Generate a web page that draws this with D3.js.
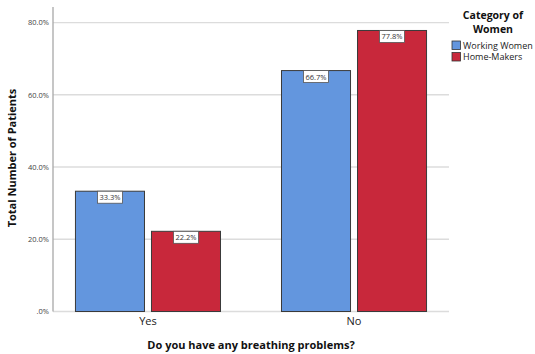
<!DOCTYPE html>
<html>
<head>
<meta charset="utf-8">
<script src="https://cdn.jsdelivr.net/npm/d3@7"></script>
<style>
  html, body { margin: 0; padding: 0; background: #fff; }
  svg { display: block; }
</style>
</head>
<body>
<svg id="chart" width="535" height="354"></svg>
<script>
// Answers to the survey question (x categories)
const categories = ["Yes", "No"];
// Groups of women (series)
const seriesNames = ["Working Women", "Home-Makers"];
// Percentage of patients per answer, one array per group
const workingWomen = [33.3, 66.7];
const homeMakers = [22.2, 77.8];
// Y tick values and their printed labels
const yTicks = [0, 20, 40, 60, 80];
const yTickLabels = [".0%", "20.0%", "40.0%", "60.0%", "80.0%"];

const seriesValues = [workingWomen, homeMakers];
const colors = ["#6396de", "#c8283b"];

const svg = d3.select("#chart");
const font = "'Open Sans', 'Liberation Sans', sans-serif";

const plot = { left: 53, right: 449, top: 7, bottom: 311.5 };

const y = d3.scaleLinear().domain([0, 84.3]).range([plot.bottom, plot.top]);
const x0 = d3.scaleBand().domain(categories).range([plot.left, plot.right])
  .paddingInner(0.296).paddingOuter(0.109);
const x1 = d3.scaleBand().domain(seriesNames).range([0, x0.bandwidth()])
  .paddingInner(0.092).paddingOuter(0);

// Gridlines
svg.append("g").selectAll("line").data(yTicks).join("line")
  .attr("x1", plot.left).attr("x2", plot.right)
  .attr("y1", d => y(d)).attr("y2", d => y(d))
  .attr("stroke", "#dcdcdc").attr("stroke-width", 1.3);

// Y axis
const yAxis = d3.axisLeft(y).tickValues(yTicks)
  .tickFormat((d, i) => yTickLabels[i]).tickSize(0).tickPadding(4);
const gy = svg.append("g").attr("transform", `translate(${plot.left},0)`).call(yAxis);
gy.select(".domain").remove();
gy.selectAll("text").attr("font-family", font).attr("font-size", 7.5).attr("fill", "#444");
svg.append("line").attr("x1", plot.left).attr("x2", plot.left)
  .attr("y1", plot.top).attr("y2", plot.bottom)
  .attr("stroke", "#a8a8a8").attr("stroke-width", 1.3);

// X axis labels
const xAxis = d3.axisBottom(x0).tickSize(0).tickPadding(6);
const gx = svg.append("g").attr("transform", `translate(0,${plot.bottom})`).call(xAxis);
gx.select(".domain").remove();
gx.selectAll("text").attr("font-family", font).attr("font-size", 11).attr("fill", "#222");

// Bars
const groups = svg.append("g").selectAll("g").data(categories).join("g")
  .attr("transform", d => `translate(${x0(d)},0)`);

const barData = (cat, ci) => seriesNames.map((s, si) => ({ s, si, v: seriesValues[si][ci] }));

groups.each(function(cat, ci) {
  const g = d3.select(this);
  const data = barData(cat, ci);
  g.selectAll("rect.bar").data(data).join("rect").attr("class", "bar")
    .attr("x", d => x1(d.s)).attr("width", x1.bandwidth())
    .attr("y", d => y(d.v)).attr("height", d => y(0) - y(d.v))
    .attr("fill", d => colors[d.si]).attr("stroke", "#3a3a3a").attr("stroke-width", 1);

  // Value labels in boxes at top of bars
  const lab = g.selectAll("g.lab").data(data).join("g").attr("class", "lab")
    .attr("transform", d => `translate(${x1(d.s) + x1.bandwidth() / 2},${y(d.v)})`);
  lab.append("rect").attr("x", -12.5).attr("y", 0).attr("width", 25).attr("height", 12)
    .attr("fill", "#fff").attr("stroke", "#555").attr("stroke-width", 0.8);
  lab.append("text").attr("y", 9).attr("text-anchor", "middle")
    .attr("font-family", font).attr("font-size", 7.5).attr("fill", "#333")
    .text(d => d.v.toFixed(1) + "%");
});

// Axis titles
svg.append("text").attr("x", (plot.left + plot.right) / 2).attr("y", 349)
  .attr("text-anchor", "middle").attr("font-family", font).attr("font-weight", "bold")
  .attr("font-size", 11).attr("fill", "#111").text("Do you have any breathing problems?");
svg.append("text").attr("transform", "translate(16,158) rotate(-90)")
  .attr("text-anchor", "middle").attr("font-family", font).attr("font-weight", "bold")
  .attr("font-size", 11).attr("fill", "#111").text("Total Number of Patients");

// Legend: two-line title
const legend = svg.append("g");
const title = legend.append("text").attr("text-anchor", "middle")
  .attr("font-family", font).attr("font-weight", "bold").attr("font-size", 10.5)
  .attr("fill", "#111");
title.append("tspan").attr("x", 493).attr("y", 18.5).text("Category of");
title.append("tspan").attr("x", 493).attr("y", 33).text("Women");

const items = legend.selectAll("g.item").data(seriesNames).join("g").attr("class", "item")
  .attr("transform", (d, i) => `translate(452,${41 + i * 11.5})`);
items.append("rect").attr("width", 8.5).attr("height", 8.5)
  .attr("fill", (d, i) => colors[i]).attr("stroke", "#333").attr("stroke-width", 0.8);
items.append("text").attr("x", 11).attr("y", 7.5)
  .attr("font-family", font).attr("font-size", 9).attr("fill", "#222").text(d => d);
</script>
</body>
</html>
